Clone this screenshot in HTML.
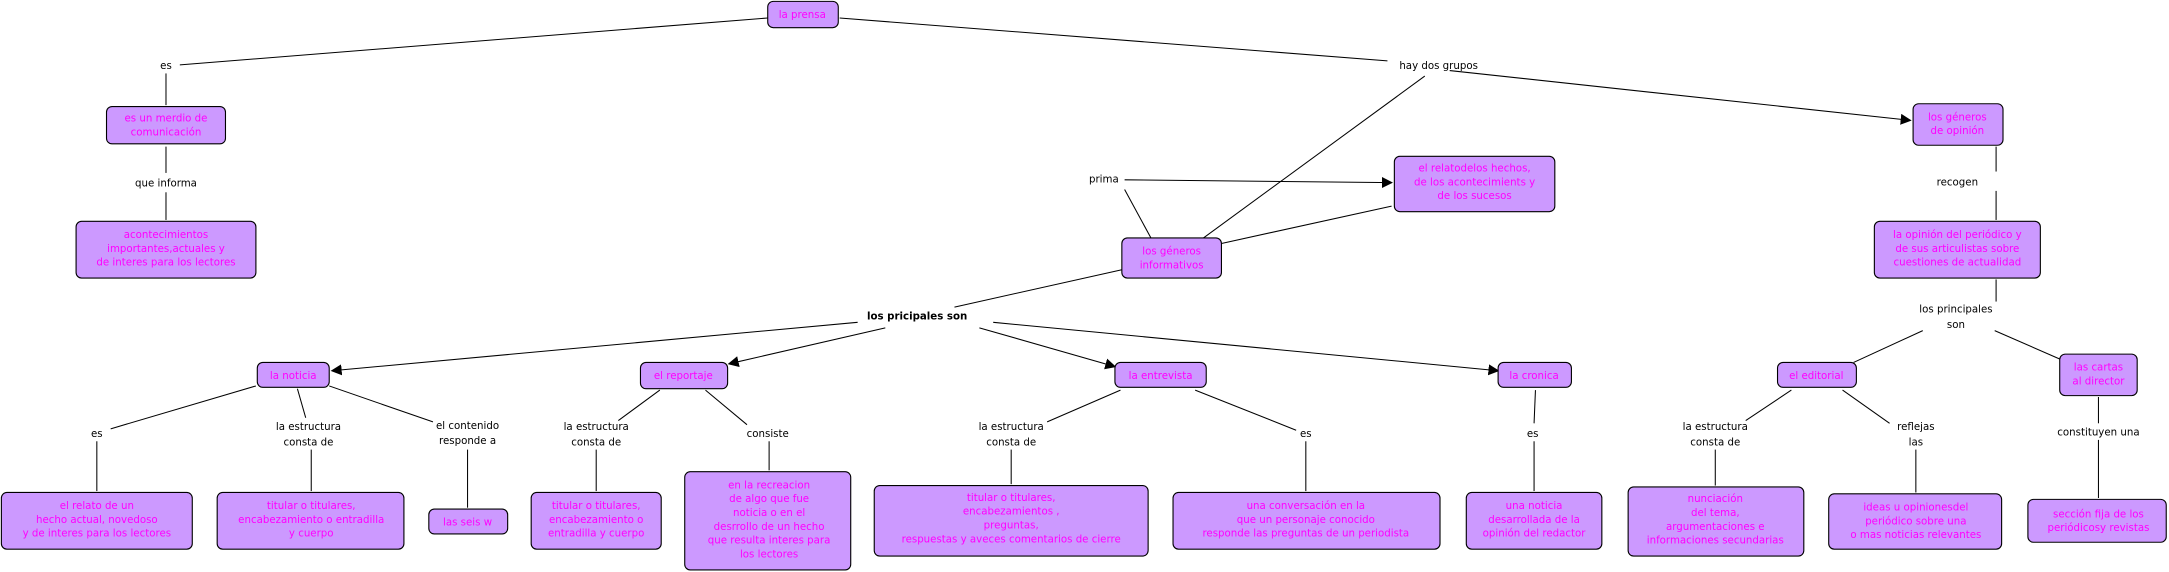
<!DOCTYPE html>
<html><head><meta charset="utf-8"><style>
html,body{margin:0;padding:0;background:#fff;}
svg{display:block;}
text{font-family:"DejaVu Sans","Liberation Sans",sans-serif;font-size:7.4px;text-anchor:middle;}
.n{fill:#ff00ff;}
.l{fill:#000;}
rect{fill:#cc99ff;stroke:#000;stroke-width:0.8;}
line{stroke:#000;stroke-width:0.75;}
</style></head><body>
<svg width="2169" height="572" viewBox="0 0 1568 413.5" preserveAspectRatio="none" xmlns="http://www.w3.org/2000/svg">
<defs><marker id="a" markerWidth="8" markerHeight="8" refX="7" refY="4" orient="auto" markerUnits="userSpaceOnUse"><path d="M0,0 L8,4 L0,8 z" fill="#000"/></marker></defs>
<g>
<line x1="555" y1="13" x2="129" y2="47"/>
<line x1="120" y1="53" x2="120" y2="76"/>
<line x1="120" y1="106" x2="120" y2="125"/>
<line x1="120" y1="139" x2="120" y2="159"/>
<line x1="607" y1="13" x2="1003" y2="44"/>
<line x1="1048" y1="51" x2="1381" y2="87" marker-end="url(#a)"/>
<line x1="1030" y1="55" x2="870" y2="172"/>
<line x1="832" y1="172" x2="813" y2="137"/>
<line x1="813" y1="130" x2="1006" y2="132" marker-end="url(#a)"/>
<line x1="883" y1="176" x2="1006" y2="149"/>
<line x1="811" y1="195" x2="690" y2="222"/>
<line x1="620" y1="233" x2="240" y2="268" marker-end="url(#a)"/>
<line x1="640" y1="237" x2="527" y2="263" marker-end="url(#a)"/>
<line x1="708" y1="237" x2="806" y2="265" marker-end="url(#a)"/>
<line x1="718" y1="233" x2="1083" y2="268" marker-end="url(#a)"/>
<line x1="1443" y1="106" x2="1443" y2="124"/>
<line x1="1443" y1="138" x2="1443" y2="159"/>
<line x1="1443" y1="202" x2="1443" y2="218"/>
<line x1="1390" y1="239" x2="1340" y2="262"/>
<line x1="1442" y1="239" x2="1490" y2="260"/>
<line x1="185" y1="279" x2="80" y2="310"/>
<line x1="215" y1="281" x2="221" y2="302"/>
<line x1="238" y1="279" x2="313" y2="305"/>
<line x1="70" y1="319" x2="70" y2="355"/>
<line x1="225" y1="325" x2="225" y2="355"/>
<line x1="338" y1="325" x2="338" y2="367"/>
<line x1="477" y1="282" x2="447" y2="304"/>
<line x1="510" y1="282" x2="540" y2="307"/>
<line x1="431" y1="325" x2="431" y2="355"/>
<line x1="556" y1="319" x2="556" y2="340"/>
<line x1="810" y1="282" x2="757" y2="305"/>
<line x1="864" y1="282" x2="937" y2="311"/>
<line x1="731" y1="325" x2="731" y2="350"/>
<line x1="944" y1="319" x2="944" y2="355"/>
<line x1="1110" y1="282" x2="1109" y2="306"/>
<line x1="1109" y1="319" x2="1109" y2="355"/>
<line x1="1295" y1="282" x2="1262" y2="304"/>
<line x1="1332" y1="282" x2="1366" y2="306"/>
<line x1="1240" y1="325" x2="1240" y2="351"/>
<line x1="1385" y1="325" x2="1385" y2="356"/>
<line x1="1517" y1="287" x2="1517" y2="306"/>
<line x1="1517" y1="318" x2="1517" y2="360"/>
</g>
<g>
<rect x="555" y="1" width="51" height="19" rx="4"/>
<rect x="77" y="77" width="86" height="27" rx="4"/>
<rect x="55" y="160" width="130" height="41" rx="4"/>
<rect x="811" y="172" width="72" height="29" rx="4"/>
<rect x="1008" y="113" width="116" height="40" rx="4"/>
<rect x="1383" y="75" width="65" height="30" rx="4"/>
<rect x="1355" y="160" width="120" height="41" rx="4"/>
<rect x="186" y="262" width="52" height="18" rx="4"/>
<rect x="463" y="262" width="63" height="19" rx="4"/>
<rect x="806" y="262" width="66" height="18" rx="4"/>
<rect x="1083" y="262" width="53" height="18" rx="4"/>
<rect x="1285" y="262" width="57" height="18" rx="4"/>
<rect x="1489" y="256" width="56" height="30" rx="4"/>
<rect x="1" y="356" width="138" height="41" rx="4"/>
<rect x="157" y="356" width="135" height="41" rx="4"/>
<rect x="310" y="368" width="57" height="18" rx="4"/>
<rect x="384" y="356" width="94" height="41" rx="4"/>
<rect x="495" y="341" width="120" height="71" rx="4"/>
<rect x="632" y="351" width="198" height="51" rx="4"/>
<rect x="848" y="356" width="193" height="41" rx="4"/>
<rect x="1060" y="356" width="98" height="41" rx="4"/>
<rect x="1177" y="352" width="127" height="50" rx="4"/>
<rect x="1322" y="357" width="125" height="40" rx="4"/>
<rect x="1466" y="361" width="100" height="31" rx="4"/>
</g>
<g class="n">
<text class="n" x="580" y="13">la prensa</text>
<text class="n" x="120" y="88">es un merdio de</text>
<text class="n" x="120" y="98">comunicación</text>
<text class="n" x="120" y="172">acontecimientos</text>
<text class="n" x="120" y="182">importantes,actuales y</text>
<text class="n" x="120" y="192">de interes para los lectores</text>
<text class="n" x="847" y="184">los géneros</text>
<text class="n" x="847" y="194">informativos</text>
<text class="n" x="1066" y="124">el relatodelos hechos,</text>
<text class="n" x="1066" y="134">de los acontecimients y</text>
<text class="n" x="1066" y="144">de los sucesos</text>
<text class="n" x="1415" y="87">los géneros</text>
<text class="n" x="1415" y="97">de opinión</text>
<text class="n" x="1415" y="172">la opinión del periódico y</text>
<text class="n" x="1415" y="182">de sus articulistas sobre</text>
<text class="n" x="1415" y="192">cuestiones de actualidad</text>
<text class="n" x="212" y="274">la noticia</text>
<text class="n" x="494" y="274">el reportaje</text>
<text class="n" x="839" y="274">la entrevista</text>
<text class="n" x="1109" y="274">la cronica</text>
<text class="n" x="1313" y="274">el editorial</text>
<text class="n" x="1517" y="268">las cartas</text>
<text class="n" x="1517" y="278">al director</text>
<text class="n" x="70" y="368">el relato de un</text>
<text class="n" x="70" y="378">hecho actual, novedoso</text>
<text class="n" x="70" y="388">y de interes para los lectores</text>
<text class="n" x="225" y="368">titular o titulares,</text>
<text class="n" x="225" y="378">encabezamiento o entradilla</text>
<text class="n" x="225" y="388">y cuerpo</text>
<text class="n" x="338" y="380">las seis w</text>
<text class="n" x="431" y="368">titular o titulares,</text>
<text class="n" x="431" y="378">encabezamiento o</text>
<text class="n" x="431" y="388">entradilla y cuerpo</text>
<text class="n" x="556" y="353">en la recreacion</text>
<text class="n" x="556" y="363">de algo que fue</text>
<text class="n" x="556" y="373">noticia o en el</text>
<text class="n" x="556" y="383">desrrollo de un hecho</text>
<text class="n" x="556" y="393">que resulta interes para</text>
<text class="n" x="556" y="403">los lectores</text>
<text class="n" x="731" y="362">titular o titulares,</text>
<text class="n" x="731" y="372">encabezamientos ,</text>
<text class="n" x="731" y="382">preguntas,</text>
<text class="n" x="731" y="392">respuestas y aveces comentarios de cierre</text>
<text class="n" x="944" y="368">una conversación en la</text>
<text class="n" x="944" y="378">que un personaje conocido</text>
<text class="n" x="944" y="388">responde las preguntas de un periodista</text>
<text class="n" x="1109" y="368">una noticia</text>
<text class="n" x="1109" y="378">desarrollada de la</text>
<text class="n" x="1109" y="388">opinión del redactor</text>
<text class="n" x="1240" y="363">nunciación</text>
<text class="n" x="1240" y="373">del tema,</text>
<text class="n" x="1240" y="383">argumentaciones e</text>
<text class="n" x="1240" y="393">informaciones secundarias</text>
<text class="n" x="1385" y="369">ideas u opinionesdel</text>
<text class="n" x="1385" y="379">periódico sobre una</text>
<text class="n" x="1385" y="389">o mas noticias  relevantes</text>
<text class="n" x="1517" y="374">sección fija de los</text>
<text class="n" x="1517" y="384">periódicosy revistas</text>
</g>
<g>
<rect x="110" y="41" width="20" height="12" style="fill:#fff;stroke:none"/>
<text class="l" x="120" y="50">es</text>
<text class="l" x="120" y="135">que informa</text>
<text class="l" x="1040" y="50">hay dos grupos</text>
<text class="l" x="798" y="132">prima</text>
<text class="l" x="1415" y="134">recogen</text>
<text class="l" x="663" y="231" style="font-weight:bold">los pricipales son</text>
<text class="l" x="1414" y="226">los principales</text>
<text class="l" x="1414" y="237">son</text>
<text class="l" x="70" y="316">es</text>
<text class="l" x="223" y="311">la estructura</text>
<text class="l" x="223" y="322">consta de</text>
<text class="l" x="338" y="310">el contenido</text>
<text class="l" x="338" y="321">responde a</text>
<text class="l" x="431" y="311">la estructura</text>
<text class="l" x="431" y="322">consta de</text>
<text class="l" x="555" y="316">consiste</text>
<text class="l" x="731" y="311">la estructura</text>
<text class="l" x="731" y="322">consta de</text>
<text class="l" x="944" y="316">es</text>
<text class="l" x="1108" y="316">es</text>
<text class="l" x="1240" y="311">la estructura</text>
<text class="l" x="1240" y="322">consta de</text>
<text class="l" x="1385" y="311">reflejas</text>
<text class="l" x="1385" y="322">las</text>
<text class="l" x="1517" y="315">constituyen una</text>
</g>
</svg>
</body></html>
